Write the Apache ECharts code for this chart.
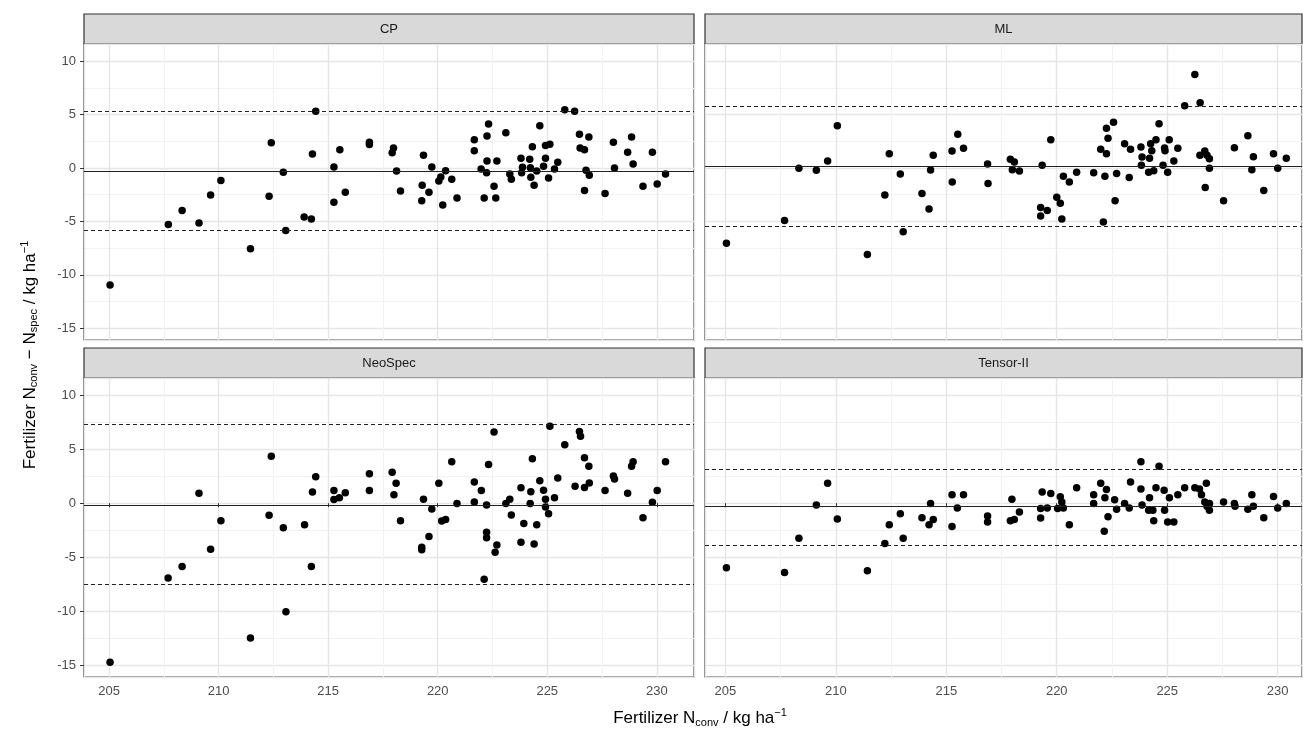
<!DOCTYPE html>
<html><head><meta charset="utf-8">
<script src="https://cdn.jsdelivr.net/npm/echarts@6/dist/echarts.min.js"></script>
<style>html,body{margin:0;padding:0;background:#fff}#c{width:1303px;height:739px}</style>
</head><body><div id="c"></div>
<script>
const panelNames = ['CP','ML','NeoSpec','Tensor-II'];
const xTicks = [205,210,215,220,225,230];
const yTicks = [-15,-10,-5,0,5,10];
const cpData = [[205.04,-10.95],[207.7,-5.3],[208.33,-3.97],[209.1,-5.14],[209.63,-2.52],[210.1,-1.18],[211.45,-7.57],[212.3,-2.65],[212.4,2.37],[212.95,-0.4],[213.06,-5.86],[213.9,-4.6],[214.23,-4.77],[214.28,1.31],[214.43,5.3],[215.26,0.09],[215.26,-3.2],[215.53,1.71],[215.78,-2.27],[216.88,2.4],[216.88,2.2],[217.92,1.43],[217.98,1.87],[218.12,-0.28],[218.3,-2.15],[219.29,-1.62],[219.27,-3.08],[219.35,1.18],[219.6,-2.27],[219.73,0.09],[220.05,-1.21],[220.14,-0.84],[220.23,-3.46],[220.36,-0.25],[220.64,-1.06],[220.88,-2.8],[221.67,2.65],[221.67,1.62],[221.98,-0.09],[222.12,-2.8],[222.23,-0.44],[222.25,2.99],[222.32,4.11],[222.25,0.65],[222.57,-1.71],[222.65,-2.8],[222.7,0.65],[223.11,3.3],[223.29,-0.56],[223.36,-1.06],[223.8,0.9],[223.87,0.06],[223.83,-0.44],[224.2,0.81],[224.25,-0.87],[224.23,0.03],[224.32,1.99],[224.4,-1.62],[224.52,-0.28],[224.66,3.96],[224.83,0.16],[224.92,0.9],[224.92,2.09],[225.06,-0.93],[225.12,2.21],[225.33,-0.09],[225.48,0.53],[225.8,5.45],[226.25,5.3],[226.47,3.15],[226.5,1.87],[226.7,1.71],[226.7,-2.12],[226.77,-0.22],[226.9,2.9],[226.92,-0.69],[227.64,-2.4],[228.02,2.4],[228.07,0],[228.67,1.46],[228.85,2.9],[228.92,0.37],[229.37,-1.71],[229.8,1.46],[230.02,-1.5],[230.4,-0.56]];
const mlData = [[205.05,-7.04],[207.68,-4.92],[208.33,-0.03],[209.12,-0.22],[209.63,0.65],[210.07,3.96],[211.43,-8.1],[212.22,-2.52],[212.42,1.34],[212.92,-0.56],[213.05,-5.98],[213.9,-2.4],[214.22,-3.83],[214.29,-0.19],[214.41,1.18],[215.26,1.59],[215.27,-1.31],[215.52,3.15],[215.78,1.84],[216.87,0.37],[216.89,-1.46],[217.9,0.81],[218.08,0.56],[217.99,-0.16],[218.31,-0.28],[219.27,-3.71],[219.27,-4.49],[219.34,0.25],[219.57,-3.99],[219.73,2.65],[220.0,-2.74],[220.16,-3.3],[220.23,-4.77],[220.3,-0.78],[220.57,-1.31],[220.9,-0.4],[221.67,-0.44],[221.99,1.74],[222.11,-5.05],[222.18,-0.78],[222.25,3.71],[222.25,1.34],[222.32,2.77],[222.57,4.27],[222.64,-3.08],[222.71,-0.53],[223.07,2.27],[223.28,-0.9],[223.34,1.74],[223.81,1.96],[223.83,0.25],[223.86,1.03],[224.16,-0.4],[224.2,0.9],[224.25,2.27],[224.3,1.62],[224.39,-0.25],[224.49,2.65],[224.63,4.14],[224.81,0.25],[224.88,1.87],[224.9,1.62],[225.02,-0.4],[225.09,2.65],[225.3,0.65],[225.48,1.84],[225.79,5.83],[226.25,8.75],[226.49,6.11],[226.48,1.18],[226.7,1.59],[226.72,-1.84],[226.8,1.18],[226.91,0.87],[226.91,-0.03],[227.55,-3.08],[228.04,1.9],[228.65,3.02],[228.9,1.06],[228.83,-0.16],[229.37,-2.12],[229.81,1.34],[230.0,-0.03],[230.39,0.9]];
const neoData = [[205.04,-14.73],[207.69,-6.92],[208.33,-5.86],[209.1,0.93],[209.63,-4.27],[210.1,-1.62],[211.45,-12.49],[212.4,4.36],[212.3,-1.12],[212.95,-2.27],[213.07,-10.06],[213.92,-1.99],[214.23,-5.86],[214.28,1.03],[214.43,2.46],[215.26,1.18],[215.26,0.34],[215.51,0.5],[215.78,0.97],[216.88,2.74],[216.88,1.18],[217.92,2.87],[218.1,1.84],[218.0,0.78],[218.3,-1.62],[219.27,-4.08],[219.27,-4.3],[219.35,0.37],[219.6,-3.08],[219.73,-0.53],[220.05,1.84],[220.18,-1.65],[220.36,-1.5],[220.64,3.83],[220.88,-0.03],[221.67,1.96],[221.67,0.12],[221.99,1.18],[222.12,-7.04],[222.23,-2.68],[222.23,-3.21],[222.23,-0.16],[222.32,3.58],[222.57,6.6],[222.7,-3.86],[222.62,-4.55],[223.11,-0.03],[223.29,0.37],[223.36,-1.09],[223.8,1.43],[223.8,-3.61],[223.93,-1.87],[224.22,-0.03],[224.25,1.06],[224.32,4.11],[224.4,-3.77],[224.52,-1.99],[224.66,2.09],[224.83,1.21],[224.92,0.37],[224.92,-0.34],[225.06,-0.97],[225.12,7.13],[225.33,0.5],[225.48,2.34],[225.8,5.42],[226.27,1.56],[226.47,6.64],[226.52,6.2],[226.7,4.21],[226.7,1.46],[226.92,1.87],[226.9,3.43],[227.64,1.18],[228.02,2.52],[228.07,2.24],[228.67,0.93],[228.85,3.43],[228.92,3.83],[229.37,-1.34],[229.8,0.09],[230.02,1.18],[230.4,3.83]];
const tensorData = [[205.05,-5.98],[207.68,-6.42],[208.33,-3.24],[209.12,-0.16],[209.63,1.84],[210.07,-1.46],[211.43,-6.26],[212.22,-3.74],[212.42,-1.99],[212.92,-0.97],[213.05,-3.24],[213.9,-1.34],[214.22,-1.99],[214.29,-0.03],[214.41,-1.5],[215.26,-2.15],[215.26,0.78],[215.5,-0.44],[215.78,0.78],[216.87,-1.18],[216.87,-1.74],[217.97,0.37],[217.9,-1.62],[218.08,-1.5],[218.31,-0.81],[219.27,-1.37],[219.27,-0.5],[219.34,1.03],[219.57,-0.44],[219.73,0.9],[220.04,-0.5],[220.16,0.59],[220.23,0.12],[220.3,-0.44],[220.57,-1.99],[220.9,1.43],[221.67,0.78],[221.67,-0.03],[221.99,1.84],[222.15,-2.59],[222.18,0.5],[222.25,1.28],[222.32,-1.25],[222.62,0.31],[222.71,-0.56],[223.07,-0.03],[223.28,-0.44],[223.34,1.96],[223.81,3.83],[223.81,1.31],[223.86,-0.16],[224.2,0.5],[224.16,-0.65],[224.35,-0.65],[224.39,-1.62],[224.49,1.43],[224.63,3.43],[224.86,1.21],[224.88,-0.65],[225.02,-1.74],[225.3,-1.74],[225.1,0.5],[225.48,0.78],[225.79,1.43],[226.25,1.43],[226.46,1.31],[226.55,0.78],[226.77,1.84],[226.7,0.12],[226.8,-0.28],[226.91,-0.03],[226.91,-0.65],[227.55,0.12],[228.04,-0.03],[228.07,-0.28],[228.65,-0.56],[228.83,0.78],[228.9,-0.28],[229.37,-1.34],[229.81,0.62],[230.0,-0.44],[230.39,-0.03]];
const biasLines = [-0.3, 0.12, -0.19, -0.28];
const upperLimits = [5.3, 5.73, 7.36, 3.15];
const lowerLimits = [-5.85, -5.42, -7.55, -3.9];

const datasets = [cpData, mlData, neoData, tensorData];
const grids = [
  {left:84, top:44, width:610, height:296},
  {left:705, top:44, width:597, height:296},
  {left:84, top:378, width:610, height:299},
  {left:705, top:378, width:597, height:299}
];
const xRanges = [[203.85,231.7],[204.08,231.1],[203.85,231.7],[204.08,231.1]];
const yMin = -16.1, yMax = 11.6;
const gridColor = '#e6e6e6', txt = '#4d4d4d';

const chart = echarts.init(document.getElementById('c'));
const option = {
  animation:false,
  grid: grids.map(g => Object.assign({show:true, borderColor:'#333', borderWidth:1.2, backgroundColor:'#fff', containLabel:false}, g)),
  xAxis: grids.map((g,i) => ({
    type:'value', gridIndex:i, min:xRanges[i][0], max:xRanges[i][1], splitNumber:5,
    axisLine:{show:false},
    axisTick:{show:i>=2, length:4, lineStyle:{color:'#333'}},
    axisLabel:{show:i>=2, color:txt, fontSize:13, fontFamily:'Liberation Sans', showMinLabel:false, showMaxLabel:false, margin:8},
    splitLine:{show:true, lineStyle:{color:gridColor, width:1.4}},
    minorTick:{show:false, splitNumber:2},
    minorSplitLine:{show:true, lineStyle:{color:'#f2f2f2', width:1}}
  })),
  yAxis: grids.map((g,i) => ({
    type:'value', gridIndex:i, min:yMin, max:yMax, splitNumber:5,
    axisLine:{show:false},
    axisTick:{show:i%2===0, length:4, lineStyle:{color:'#333'}},
    axisLabel:{show:i%2===0, color:txt, fontSize:13, fontFamily:'Liberation Sans', showMinLabel:false, showMaxLabel:false, margin:8},
    splitLine:{show:true, lineStyle:{color:gridColor, width:1.4}},
    minorTick:{show:false, splitNumber:2},
    minorSplitLine:{show:true, lineStyle:{color:'#f2f2f2', width:1}}
  })),
  series: datasets.map((d,i) => ({
    type:'scatter', xAxisIndex:i, yAxisIndex:i, data:d, symbolSize:7.5,
    itemStyle:{color:'#000', opacity:1}, z:3,
    markLine:{silent:true, symbol:'none', label:{show:false}, animation:false,
      data:[
        {yAxis:biasLines[i], lineStyle:{color:'#222', type:'solid', width:1.2}},
        {yAxis:upperLimits[i], lineStyle:{color:'#222', type:[4,3], width:1.2}},
        {yAxis:lowerLimits[i], lineStyle:{color:'#222', type:[4,3], width:1.2}}
      ]}
  })),
  graphic: [
    ...grids.map((g,i) => ({type:'rect', shape:{x:g.left, y:g.top-30, width:g.width, height:30},
      style:{fill:'#d9d9d9', stroke:'#333', lineWidth:1.2}})),
    ...grids.map((g,i) => ({type:'text', x:g.left+g.width/2, y:g.top-15,
      style:{text:panelNames[i], fill:'#1a1a1a', font:'13px "Liberation Sans"', align:'center', verticalAlign:'middle'}})),
    {type:'text', x:700, y:718, style:{
      text:'{a|Fertilizer N}{s|conv}{a| / kg ha}{p|−1}', align:'center', verticalAlign:'middle',
      rich:{a:{fontSize:17, fontFamily:'Liberation Sans', fill:'#000'}, s:{fontSize:11, fontFamily:'Liberation Sans', fill:'#000', verticalAlign:'bottom', padding:[8,0,0,0]}, p:{fontSize:11, fontFamily:'Liberation Sans', fill:'#000', padding:[0,0,10,0]}}}},
    {type:'text', x:30, y:355, rotation:Math.PI/2, style:{
      text:'{a|Fertilizer N}{s|conv}{a| − N}{s|spec}{a| / kg ha}{p|−1}', align:'center', verticalAlign:'middle',
      rich:{a:{fontSize:17, fontFamily:'Liberation Sans', fill:'#000'}, s:{fontSize:11, fontFamily:'Liberation Sans', fill:'#000', padding:[8,0,0,0]}, p:{fontSize:11, fontFamily:'Liberation Sans', fill:'#000', padding:[0,0,10,0]}}}}
  ]
};
chart.setOption(option);
</script></body></html>
